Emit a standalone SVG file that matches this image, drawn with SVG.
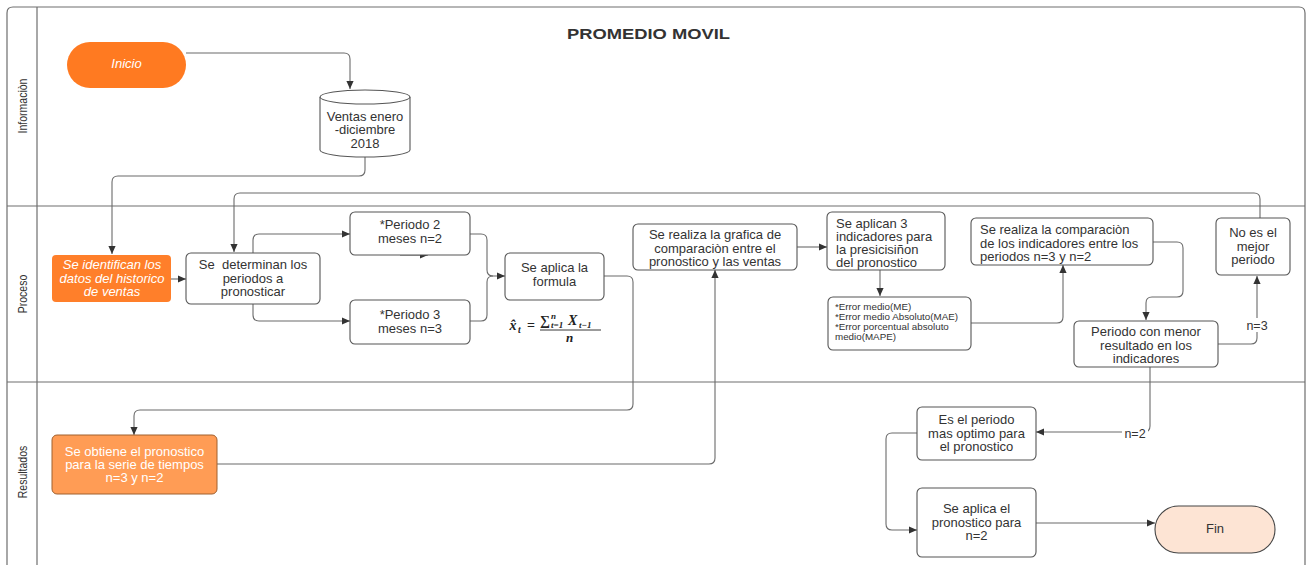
<svg xmlns="http://www.w3.org/2000/svg" width="1310" height="565" viewBox="0 0 1310 565">
  <style>
    .lane { fill: none; stroke: #6e6e6e; stroke-width: 1.2; }
    .lbl { font-family: "Liberation Sans", Arial, sans-serif; font-size: 12.5px; fill: #333; text-anchor: middle; }
    .box { fill: #fff; stroke: #555; stroke-width: 1.1; }
    .t { font-family: "Liberation Sans", Arial, sans-serif; font-size: 13px; fill: #333; text-anchor: middle; }
    .tl { font-family: "Liberation Sans", Arial, sans-serif; font-size: 13px; fill: #333; }
    .ts { font-family: "Liberation Sans", Arial, sans-serif; font-size: 9.8px; fill: #333; }
    .tw { font-family: "Liberation Sans", Arial, sans-serif; font-size: 13px; fill: #fff; text-anchor: middle; }
    .edge { fill: none; stroke: #6b6b6b; stroke-width: 1.1; }
    .arr { marker-end: url(#ah); }
    .elbl { font-family: "Liberation Sans", Arial, sans-serif; font-size: 12.5px; fill: #333; text-anchor: middle; }
    .math { font-family: "Liberation Serif", "Times New Roman", serif; fill: #222; font-weight: bold; }
  </style>
  <defs>
    <marker id="ah" viewBox="0 0 10 10" refX="10" refY="5" markerWidth="8" markerHeight="8" markerUnits="userSpaceOnUse" orient="auto">
      <path d="M0,0.5 L10,5 L0,9.5 Z" fill="#333"/>
    </marker>
  </defs>

  <rect width="1310" height="565" fill="#fff"/>

  <!-- swimlane frame -->
  <g id="lanes">
    <path class="lane" d="M7,570 L7,13 Q7,7 13,7 L1299,7 Q1305,7 1305,13 L1305,570"/>
    <line class="lane" x1="37" y1="7" x2="37" y2="570"/>
    <line class="lane" x1="7" y1="206" x2="1305" y2="206"/>
    <line class="lane" x1="7" y1="382" x2="1305" y2="382"/>
    <text class="lbl" transform="translate(26.5,106) rotate(-90) scale(0.84,1)">Informaciòn</text>
    <text class="lbl" transform="translate(26.5,294) rotate(-90) scale(0.84,1)">Proceso</text>
    <text class="lbl" transform="translate(26.5,472) rotate(-90) scale(0.84,1)">Resultados</text>
    <text x="567" y="39" textLength="163" lengthAdjust="spacingAndGlyphs" font-family="Liberation Sans, Arial, sans-serif" font-size="15.5" font-weight="bold" fill="#333">PROMEDIO MOVIL</text>
  </g>

  <!-- connectors -->
  <g id="connectors">
    <path class="edge arr" d="M186,53 L344,53 Q350,53 350,59 L350,89"/>
    <path class="edge arr" d="M365,157 L365,170 Q365,176 359,176 L118,176 Q112,176 112,182 L112,254"/>
    <path class="edge arr" d="M1260,218 L1260,199 Q1260,193 1254,193 L240,193 Q234,193 234,199 L234,252"/>
    <path class="edge arr" d="M171,279 L186,279"/>
    <path class="edge arr" d="M253,253 L253,240 Q253,234 259,234 L350,234"/>
    <path class="edge arr" d="M253,304 L253,315 Q253,321 259,321 L350,321"/>
    <path class="edge arr" d="M400,255 L428,255"/>
    <path class="edge" d="M470,234 L481,234 Q487,234 487,240 L487,270 Q487,276 493,276"/>
    <path class="edge arr" d="M470,321 L481,321 Q487,321 487,315 L487,282 Q487,276 493,276 L505,276"/>
    <path class="edge arr" d="M604,276 L627,276 Q633,276 633,282 L633,404 Q633,410 627,410 L140,410 Q134,410 134,416 L134,435"/>
    <path class="edge arr" d="M217,464 L709,464 Q715,464 715,458 L715,270"/>
    <path class="edge arr" d="M797,247 L827,247"/>
    <path class="edge arr" d="M880,270 L880,296"/>
    <path class="edge arr" d="M971,323 L1057,323 Q1063,323 1063,317 L1063,265"/>
    <path class="edge arr" d="M1153,242 L1177,242 Q1183,242 1183,248 L1183,291 Q1183,297 1177,297 L1152,297 Q1146,297 1146,303 L1146,320"/>
    <path class="edge arr" d="M1218,344 L1251,344 Q1257,344 1257,338 L1257,276"/>
    <path class="edge arr" d="M1150,367 L1150,426 Q1150,432 1144,432 L1036,432"/>
    <path class="edge arr" d="M917,433 L892,433 Q886,433 886,439 L886,524 Q886,530 892,530 L917,530"/>
    <path class="edge arr" d="M1036,523 L1155,523"/>
    <rect x="1245" y="318" width="24" height="14" fill="#fff"/>
    <text class="elbl" x="1257" y="329.5">n=3</text>
    <rect x="1122" y="426" width="26" height="14" fill="#fff"/>
    <text class="elbl" x="1135" y="437.5">n=2</text>
  </g>

  <g id="inicio">
    <rect x="67" y="42" width="119" height="46" rx="23" fill="#ff7a21"/>
    <text class="tw" x="126.5" y="67.5" font-style="italic">Inicio</text>
  </g>

  <g id="ventas">
    <path d="M320,97 L320,150 A45,7 0 0 0 410,150 L410,97" fill="#fff" stroke="#555" stroke-width="1.1"/>
    <ellipse cx="365" cy="97" rx="45" ry="7" fill="#fff" stroke="#555" stroke-width="1.1"/>
    <text class="t" x="365" y="120.5">Ventas enero</text>
    <text class="t" x="365" y="134">-diciembre</text>
    <text class="t" x="365" y="147.5">2018</text>
  </g>

  <g id="identifican">
    <rect x="52" y="255" width="119" height="47" rx="4" fill="#ff7f2a"/>
    <text class="tw" x="112" y="269" font-style="italic">Se identifican los</text>
    <text class="tw" x="112" y="282.5" font-style="italic">datos del historico</text>
    <text class="tw" x="112" y="296" font-style="italic">de ventas</text>
  </g>

  <g id="determinan">
    <rect class="box" x="186" y="253" width="134" height="51" rx="5"/>
    <text class="t" x="253" y="269" xml:space="preserve">Se  determinan los</text>
    <text class="t" x="253" y="282.5">periodos a</text>
    <text class="t" x="253" y="296">pronosticar</text>
  </g>

  <g id="periodo2">
    <rect class="box" x="350" y="212" width="120" height="43" rx="5"/>
    <text class="t" x="410" y="229">*Periodo 2</text>
    <text class="t" x="410" y="243">meses n=2</text>
  </g>

  <g id="periodo3">
    <rect class="box" x="350" y="300" width="120" height="44" rx="5"/>
    <text class="t" x="410" y="319">*Periodo 3</text>
    <text class="t" x="410" y="333">meses n=3</text>
  </g>

  <g id="formula">
    <rect class="box" x="505" y="253" width="99" height="47" rx="5"/>
    <text class="t" x="554.5" y="272">Se aplica la</text>
    <text class="t" x="554.5" y="286">formula</text>
  </g>

  <g id="ecuacion">
    <text class="math" x="509.5" y="330" font-size="14" font-style="italic">x̂</text>
    <text class="math" x="518" y="333" font-size="9.5" font-style="italic">t</text>
    <text class="math" x="527" y="330" font-size="14" font-weight="normal">=</text>
    <text class="math" x="540" y="325" font-size="14" font-weight="normal">∑</text>
    <text class="math" x="551" y="319" font-size="9" font-style="italic">n</text>
    <text class="math" x="551" y="328" font-size="9" font-style="italic">t=1</text>
    <text class="math" x="568" y="325" font-size="14" font-style="italic">X</text>
    <text class="math" x="579" y="328" font-size="9" font-style="italic">t−1</text>
    <line x1="540" y1="330" x2="601" y2="330" stroke="#222" stroke-width="0.9"/>
    <text class="math" x="566" y="342" font-size="13" font-style="italic">n</text>
  </g>

  <g id="grafica">
    <rect class="box" x="633" y="224" width="164" height="46" rx="5"/>
    <text class="t" x="715" y="239">Se realiza la grafica de</text>
    <text class="t" x="715" y="252.5">comparaciòn entre el</text>
    <text class="t" x="715" y="266">pronostico y las ventas</text>
  </g>

  <g id="indicadores">
    <rect class="box" x="827" y="212" width="118" height="58" rx="5"/>
    <text class="tl" x="836" y="228" font-size="12.8">Se aplican 3</text>
    <text class="tl" x="836" y="241" font-size="12.8">indicadores para</text>
    <text class="tl" x="836" y="254" font-size="12.8">la presicisiñon</text>
    <text class="tl" x="836" y="267" font-size="12.8">del pronostico</text>
  </g>

  <g id="errores">
    <rect class="box" x="828" y="297" width="143" height="53" rx="5"/>
    <text class="ts" x="835" y="309.5">*Error medio(ME)</text>
    <text class="ts" x="835" y="319.5">*Error medio Absoluto(MAE)</text>
    <text class="ts" x="835" y="329.5">*Error porcentual absoluto</text>
    <text class="ts" x="835" y="339.5">medio(MAPE)</text>
  </g>

  <g id="comparacion">
    <rect class="box" x="971" y="218" width="182" height="47" rx="5"/>
    <text class="tl" x="980" y="234">Se realiza la comparaciòn</text>
    <text class="tl" x="980" y="247.5">de los indicadores entre los</text>
    <text class="tl" x="980" y="261">periodos n=3 y n=2</text>
  </g>

  <g id="no-mejor">
    <rect class="box" x="1216" y="218" width="74" height="57" rx="5"/>
    <text class="t" x="1253" y="237">No es el</text>
    <text class="t" x="1253" y="250.5">mejor</text>
    <text class="t" x="1253" y="264">periodo</text>
  </g>

  <g id="menor">
    <rect class="box" x="1074" y="321" width="144" height="46" rx="5"/>
    <text class="t" x="1146" y="336">Periodo con menor</text>
    <text class="t" x="1146" y="349.5">resultado en los</text>
    <text class="t" x="1146" y="363">indicadores</text>
  </g>

  <g id="obtiene">
    <rect x="52" y="435" width="165" height="59" rx="5" fill="#ff9c55" stroke="#a0602f" stroke-width="1"/>
    <text class="tw" x="134.5" y="455.5">Se obtiene el pronostico</text>
    <text class="tw" x="134.5" y="468.5">para la serie de tiempos</text>
    <text class="tw" x="134.5" y="481.5">n=3 y n=2</text>
  </g>

  <g id="optimo">
    <rect class="box" x="917" y="407" width="119" height="53" rx="5"/>
    <text class="t" x="976.5" y="424">Es el periodo</text>
    <text class="t" x="976.5" y="437.5">mas optimo para</text>
    <text class="t" x="976.5" y="451">el pronostico</text>
  </g>

  <g id="aplica">
    <rect class="box" x="917" y="488" width="119" height="69" rx="5"/>
    <text class="t" x="976.5" y="513">Se aplica el</text>
    <text class="t" x="976.5" y="526.5">pronostico para</text>
    <text class="t" x="976.5" y="540">n=2</text>
  </g>

  <g id="fin">
    <rect x="1155" y="506" width="120" height="47" rx="23.5" fill="#fde4d4" stroke="#444" stroke-width="1.1"/>
    <text class="t" x="1215" y="532.5" font-size="12.5">Fin</text>
  </g>
</svg>
